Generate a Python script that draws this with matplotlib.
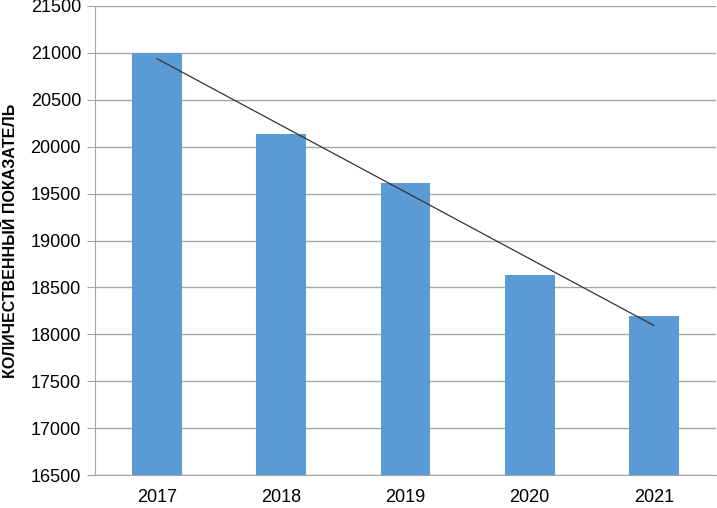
import matplotlib
matplotlib.use("Agg")
import matplotlib.pyplot as plt
import numpy as np

years = ["2017", "2018", "2019", "2020", "2021"]
values = [21000, 20140, 19610, 18630, 18200]
ylabel = "КОЛИЧЕСТВЕННЫЙ ПОКАЗАТЕЛЬ"

plt.rcParams['font.family'] = ['Liberation Sans', 'DejaVu Sans']

fig = plt.figure(figsize=(7.17, 5.08), dpi=100)
ax = fig.add_axes([95/717, 33/508, 621/717, 469/508])

x = np.arange(len(years))
ax.bar(x, values, width=0.4, color="#5B9BD5", zorder=3)

coef = np.polyfit(x, values, 1)
ax.plot(x, np.polyval(coef, x), color="#333333", lw=0.9, zorder=4)

ax.set_ylim(16500, 21500)
ax.set_xlim(-0.5, len(years) - 0.5)
ax.set_yticks(np.arange(16500, 21501, 500))
ax.set_xticks(x)
ax.set_xticklabels(years)
ax.yaxis.grid(True, color="#A6A6A6", lw=1, zorder=0)
for s in ["top", "right"]:
    ax.spines[s].set_visible(False)
for s in ["left", "bottom"]:
    ax.spines[s].set_color("#A6A6A6")
ax.tick_params(axis="y", length=6, color="#A6A6A6", labelsize=13, pad=4)
ax.tick_params(axis="x", length=0, labelsize=13, pad=10)
ax.set_ylabel(ylabel, fontsize=11.5, fontweight="bold")
ax.yaxis.set_label_coords(-0.124, 0.5)

fig.savefig("out.png", dpi=100)
